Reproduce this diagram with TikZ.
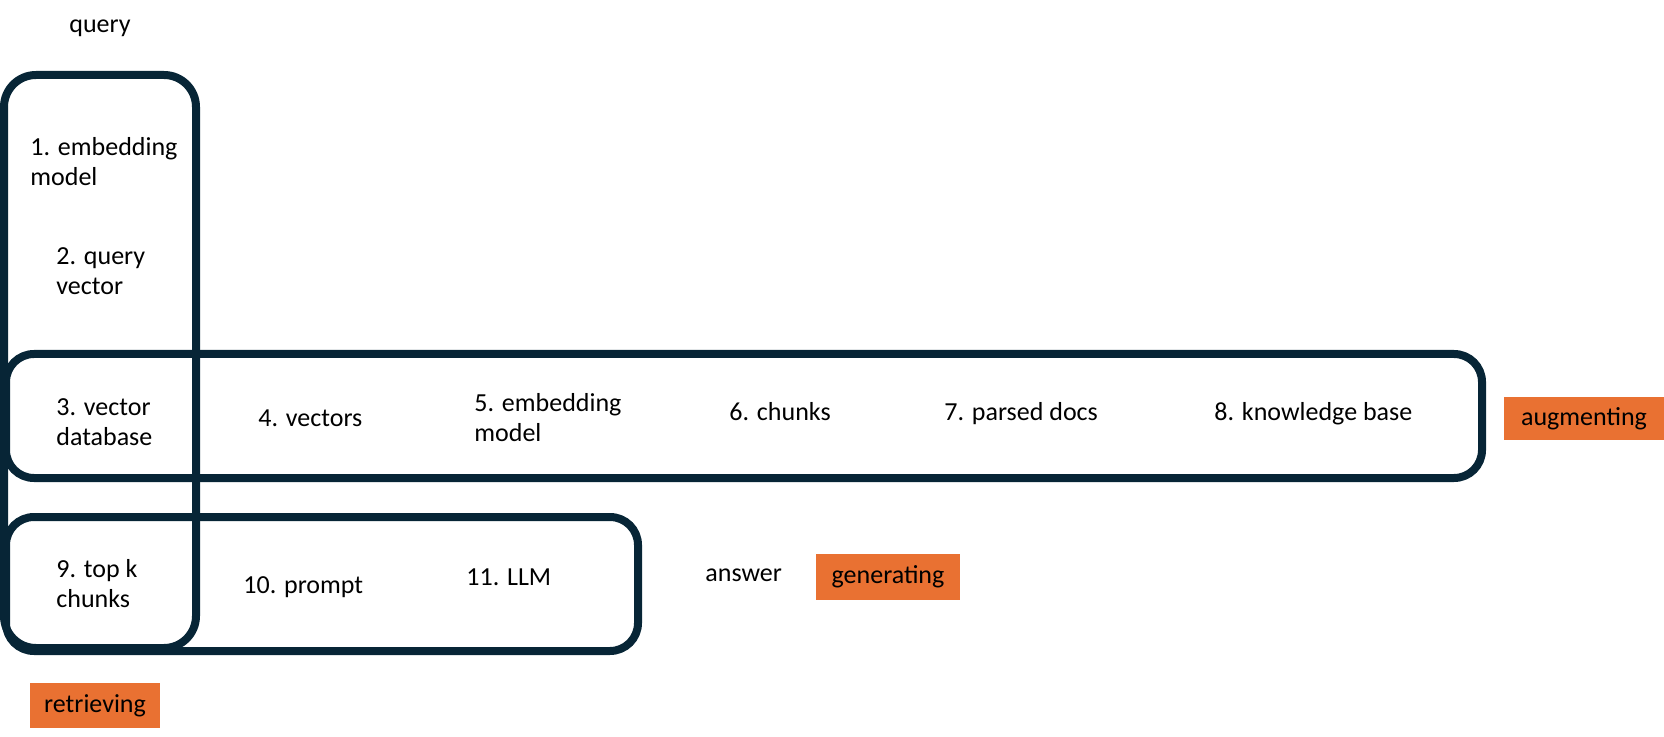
\documentclass[tikz,border=0pt]{standalone}
\usepackage{fontspec}
\setmainfont{Carlito}
\definecolor{navy}{HTML}{072536}
\definecolor{accent}{HTML}{E97132}
\begin{document}
\begin{tikzpicture}[x=0.5pt,y=-0.5pt,
  grp/.style={draw=navy, line width=4pt},
  lbl/.style={inner sep=0pt, align=left, font=\fontsize{13pt}{15pt}\selectfont, text=black},
  tag/.style={fill=accent, inner sep=0pt, font=\fontsize{13pt}{15pt}\selectfont, text=black}]
\useasboundingbox (0,0) rectangle (1664,737);
% group boxes
\draw[grp, rounded corners=14pt] (6,354) rectangle (1482,478);
\draw[grp, rounded corners=14pt] (6,517) rectangle (638,651);
\draw[grp, rounded corners=16pt] (4,75) rectangle (196,648);
% labels (multi-line nodes: base = last line)
\node[lbl, anchor=base] (q) at (100,33) {query};
\node[lbl, anchor=base west] (n1) at (30,186) {1. embedding\\model};
\node[lbl, anchor=base west] (n2) at (56,295) {2. query\\vector};
\node[lbl, anchor=base west] (n3) at (56,445) {3. vector\\database};
\node[lbl, anchor=base west] (n4) at (258,426) {4. vectors};
\node[lbl, anchor=base west] (n5) at (474,441) {5. embedding\\model};
\node[lbl, anchor=base west] (n6) at (729,421) {6. chunks};
\node[lbl, anchor=base west] (n7) at (944,421) {7. parsed docs};
\node[lbl, anchor=base west] (n8) at (1214,421) {8. knowledge base};
\node[lbl, anchor=base west] (n9) at (56,607) {9. top k\\chunks};
\node[lbl, anchor=base west] (n10) at (243,593) {10. prompt};
\node[lbl, anchor=base west] (n11) at (466,585) {11. LLM};
\node[lbl, anchor=base west] (ans) at (705,581) {answer};
% tags
\node[tag, minimum width=80pt, minimum height=21.5pt] (aug) at (1584,418.5) {augmenting};
\node[tag, minimum width=72pt, minimum height=23pt] (gen) at (888,577) {generating};
\node[tag, minimum width=65pt, minimum height=22.5pt] (ret) at (95,705.5) {retrieving};
\end{tikzpicture}
\end{document}
